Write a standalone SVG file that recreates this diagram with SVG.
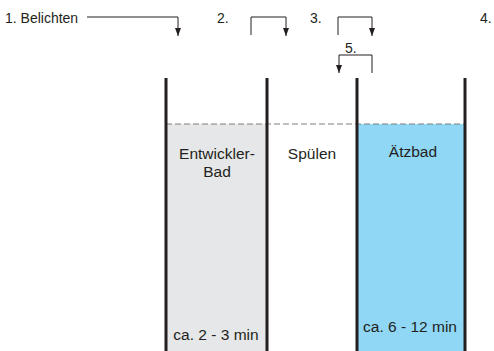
<svg xmlns="http://www.w3.org/2000/svg" width="494" height="351" viewBox="0 0 494 351">
<defs>
<style>
text{font-family:"Liberation Sans",Arial,sans-serif;fill:#231f20}
.lbl{font-size:14px}
.bt{font-size:15.5px;text-anchor:middle}
.wall{stroke:#231f20;stroke-width:3;fill:none}
.conn{stroke:#231f20;stroke-width:1;fill:none;marker-end:url(#ah)}
</style>
<marker id="ah" viewBox="0 0 8 6" refX="8" refY="3" markerWidth="8" markerHeight="6" markerUnits="userSpaceOnUse" orient="auto">
<path d="M0,0 L8,3 L0,6 Z" fill="#231f20"/>
</marker>
</defs>
<rect width="494" height="351" fill="#fff"/>
<g id="baths">
<rect x="166" y="124" width="101" height="227" fill="#e6e7e8"/>
<rect x="357" y="124" width="108" height="227" fill="#8fd7f5"/>
<line x1="166" y1="124" x2="465" y2="124" stroke="#7f7f7f" stroke-width="1.2" stroke-dasharray="6,3"/>
</g>
<g id="walls">
<line class="wall" x1="166" y1="78" x2="166" y2="351"/>
<line class="wall" x1="267" y1="78" x2="267" y2="351"/>
<line class="wall" x1="357" y1="78" x2="357" y2="351"/>
<line class="wall" x1="465" y1="78" x2="465" y2="351"/>
</g>
<g id="connectors">
<path class="conn" d="M87,17 H178 V36"/>
<path class="conn" d="M251,35 V17 H286 V36"/>
<path class="conn" d="M338,35 V17 H372 V36"/>
<path class="conn" d="M372,73 V55 H339 V73"/>
</g>
<g id="labels">
<text class="lbl" x="5" y="23">1. Belichten</text>
<text class="lbl" x="217" y="23">2.</text>
<text class="lbl" x="310" y="23">3.</text>
<text class="lbl" x="480" y="23">4.</text>
<text class="lbl" x="345" y="53">5.</text>
</g>
<g id="entwickler">
<text class="bt" x="217" y="159">Entwickler-</text>
<text class="bt" x="217" y="177">Bad</text>
<text class="bt" x="216" y="340">ca. 2 - 3 min</text>
</g>
<g id="spuelen">
<text class="bt" x="312" y="159">Spülen</text>
</g>
<g id="aetzbad">
<text class="bt" x="413" y="157">Ätzbad</text>
<text class="bt" x="410" y="332">ca. 6 - 12 min</text>
</g>
</svg>
